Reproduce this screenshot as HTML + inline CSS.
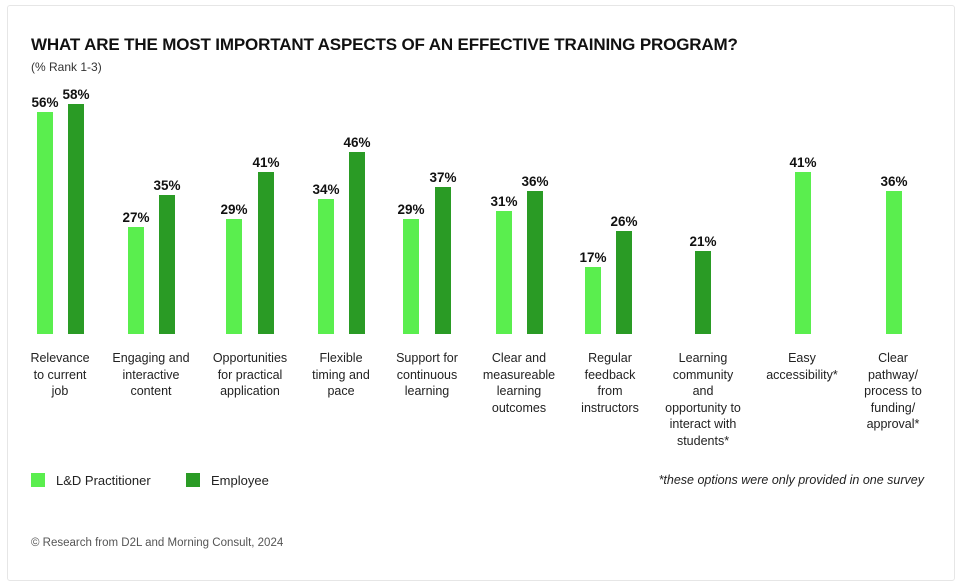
<!DOCTYPE html>
<html><head><meta charset="utf-8"><style>
body{margin:0;width:960px;height:587px;background:#fff;font-family:"Liberation Sans",sans-serif;position:relative;overflow:hidden}
.card{position:absolute;left:7px;top:5px;width:948px;height:576px;border:1px solid #e6e6e6;border-radius:3px;box-sizing:border-box}
.t{position:absolute;white-space:nowrap}
.b{position:absolute;width:16px}
.l{background:#5aee4e}.d{background:#2a9b25}
.v{position:absolute;font-weight:bold;font-size:13.5px;color:#111;width:40px;text-align:center}
.c{position:absolute;font-size:12.5px;color:#222;text-align:center;width:96px;line-height:16.5px;top:350px}
</style></head><body>
<div class="card"></div>
<div class="t" style="left:31px;top:35px;font-size:17px;font-weight:bold;color:#111;letter-spacing:-0.15px">WHAT ARE THE MOST IMPORTANT ASPECTS OF AN EFFECTIVE TRAINING PROGRAM?</div>
<div class="t" style="left:31px;top:60px;font-size:12px;color:#333">(% Rank 1-3)</div>
<div id="bars"></div>
<div class="c" style="left:12px">Relevance<br>to current<br>job</div>
<div class="c" style="left:103px">Engaging and<br>interactive<br>content</div>
<div class="c" style="left:202px">Opportunities<br>for practical<br>application</div>
<div class="c" style="left:293px">Flexible<br>timing and<br>pace</div>
<div class="c" style="left:379px">Support for<br>continuous<br>learning</div>
<div class="c" style="left:471px">Clear and<br>measureable<br>learning<br>outcomes</div>
<div class="c" style="left:562px">Regular<br>feedback<br>from<br>instructors</div>
<div class="c" style="left:655px">Learning<br>community<br>and<br>opportunity to<br>interact with<br>students*</div>
<div class="c" style="left:754px">Easy<br>accessibility*</div>
<div class="c" style="left:845px">Clear<br>pathway/<br>process to<br>funding/<br>approval*</div>
<div class="b l" style="left:31px;top:473px;width:14px;height:14px"></div>
<div class="t" style="left:56px;top:473px;font-size:13px;color:#222">L&amp;D Practitioner</div>
<div class="b d" style="left:186px;top:473px;width:14px;height:14px"></div>
<div class="t" style="left:211px;top:473px;font-size:13px;color:#222">Employee</div>
<div class="t" style="right:36px;top:473px;font-size:12.5px;font-style:italic;color:#222">*these options were only provided in one survey</div>
<div class="t" style="left:31px;top:537px;font-size:11.5px;color:#555">© Research from D2L and Morning Consult, 2024</div>
<script>
var data=[[37,56,68,58],[128,27,159,35],[226,29,258,41],[318,34,349,46],[403,29,435,37],[496,31,527,36],[585,17,616,26],[null,null,695,21],[795,41,null,null],[886,36,null,null]];
var h='';data.forEach(function(g){[[g[0],g[1],'l'],[g[2],g[3],'d']].forEach(function(p){if(p[0]==null)return;var H=Math.round(p[1]*3.96),top=334-H;h+='<div class="b '+p[2]+'" style="left:'+p[0]+'px;top:'+top+'px;height:'+H+'px"></div><div class="v" style="left:'+(p[0]-12)+'px;top:'+(top-17)+'px">'+p[1]+'%</div>';});});
document.getElementById('bars').innerHTML=h;
</script>
</body></html>
